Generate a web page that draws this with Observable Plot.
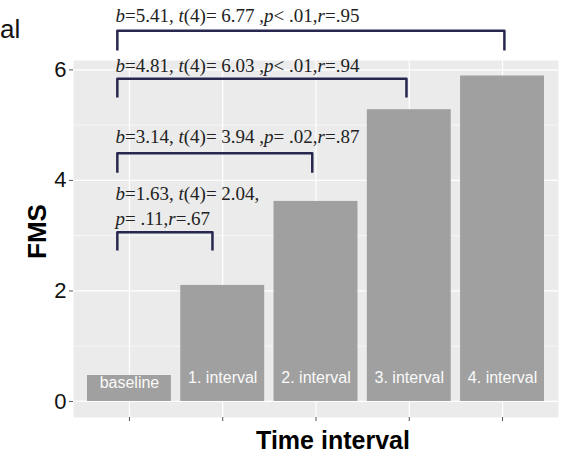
<!DOCTYPE html>
<html>
<head>
<meta charset="utf-8">
<script src="https://cdn.jsdelivr.net/npm/d3@7"></script>
<script src="https://cdn.jsdelivr.net/npm/@observablehq/plot@0.6"></script>
<style>
  html, body { margin: 0; padding: 0; background: #fff; }
  #wrap { position: relative; width: 563px; height: 461px; overflow: hidden; }
  #cut { position: absolute; left: 0px; top: 14px; font: 26px "Liberation Sans", Arial, sans-serif; color: #111; }
</style>
</head>
<body>
<div id="wrap"><span id="cut">al</span></div>
<script>
// Categories and bar values (FMS)
const categories = ["baseline", "1. interval", "2. interval", "3. interval", "4. interval"];
const fmsValues = [0.47, 2.10, 3.62, 5.28, 5.89];

// Significance brackets (baseline vs each interval), in data units
const bracketStartX = [-0.13, -0.13, -0.13, -0.13];
const bracketEndX = [0.89, 1.96, 2.97, 4.02];
const bracketTopY = [3.06, 4.49, 5.84, 6.71];
const bracketLegY = [2.73, 4.14, 5.50, 6.35];

// Statistic labels
const statLines = [
  "b=1.63, t(4)= 2.04,",
  "p= .11,r=.67",
  "b=3.14, t(4)= 3.94 ,p= .02,r=.87",
  "b=4.81, t(4)= 6.03 ,p< .01,r=.94",
  "b=5.41, t(4)= 6.77 ,p< .01,r=.95"
];
const statY = [3.76, 3.31, 4.78, 6.08, 6.98];
const statX = -0.15;

// Axis ticks
const yTicks = [0, 2, 4, 6];
const yMinor = [1, 3, 5];

const bars = categories.map((c, i) => ({ cat: c, i, v: fmsValues[i] }));
const bracketPts = [];
bracketEndX.forEach((ex, k) => {
  bracketPts.push({ k, x: bracketStartX[k], y: bracketLegY[k] });
  bracketPts.push({ k, x: bracketStartX[k], y: bracketTopY[k] });
  bracketPts.push({ k, x: ex, y: bracketTopY[k] });
  bracketPts.push({ k, x: ex, y: bracketLegY[k] });
});
const stats = statLines.map((s, j) => ({ s, y: statY[j], x: statX }));

const barWidth = 0.9;

const svg = Plot.plot({
  width: 563,
  height: 461,
  marginLeft: 73,
  marginRight: 5,
  marginTop: 60,
  marginBottom: 44,
  style: { fontFamily: "'Liberation Sans', Arial, sans-serif", background: "#fff", overflow: "visible" },
  x: { domain: [-0.6, 4.6], axis: null },
  y: { domain: [-0.29, 6.17], axis: null },
  marks: [
    Plot.frame({ fill: "#EBEBEB", stroke: "none" }),
    Plot.ruleY(yMinor, { stroke: "#FFFFFF", strokeWidth: 0.6 }),
    Plot.ruleY(yTicks, { stroke: "#FFFFFF", strokeWidth: 1.2 }),
    Plot.ruleX(categories.map((c, i) => i), { stroke: "#FFFFFF", strokeWidth: 1.2 }),
    Plot.rectY(bars, { x1: d => d.i - barWidth / 2, x2: d => d.i + barWidth / 2, y1: 0, y2: "v", fill: "#A0A0A0" }),
    Plot.text(bars.slice(0, 1), { x: "i", text: "cat", frameAnchor: "bottom", dy: -30, fill: "#FAFAFA", fontSize: 16 }),
    Plot.text(bars.slice(1), { x: "i", text: "cat", frameAnchor: "bottom", dy: -35, fill: "#FAFAFA", fontSize: 16 }),
    Plot.axisY({ ticks: yTicks, tickFormat: d3.format("d"), tickSize: 4, tickPadding: 3, fontSize: 22, color: "#111", stroke: "#555", label: null }),
    Plot.axisX({ ticks: categories.map((c, i) => i), tickFormat: () => "", tickSize: 4, stroke: "#555", label: null }),
    Plot.line(bracketPts, { x: "x", y: "y", z: "k", stroke: "#27274F", strokeWidth: 2.5, strokeLinejoin: "round", strokeLinecap: "butt" }),
    Plot.text(stats, { x: "x", y: "y", text: "s", textAnchor: "start", fontSize: 19, fill: "#222", fontFamily: "'Liberation Serif', 'Times New Roman', serif" }),
    Plot.text(["FMS"], { frameAnchor: "left", rotate: -90, dx: -36, dy: 20, fontSize: 26, fontWeight: "bold", fill: "#000" }),
    Plot.text(["Time interval"], { frameAnchor: "bottom", dx: 17, dy: 31, fontSize: 25, fontWeight: "bold", fill: "#000" })
  ]
});

// italicize the variable letters (b, t, p, r) in the statistic labels
d3.select(svg).selectAll("text").each(function () {
  const s = this.textContent;
  if (!statLines.includes(s)) return;
  const el = d3.select(this);
  el.text(null);
  s.split(/([a-z])/).forEach(part => {
    if (!part) return;
    const t = el.append("tspan").text(part);
    if (/^[a-z]$/.test(part)) t.attr("font-style", "italic");
  });
  el.attr("xml:space", "preserve").style("white-space", "pre");
});

document.getElementById("wrap").prepend(svg);
svg.style.position = "absolute";
svg.style.left = "0";
svg.style.top = "0";
</script>
</body>
</html>
